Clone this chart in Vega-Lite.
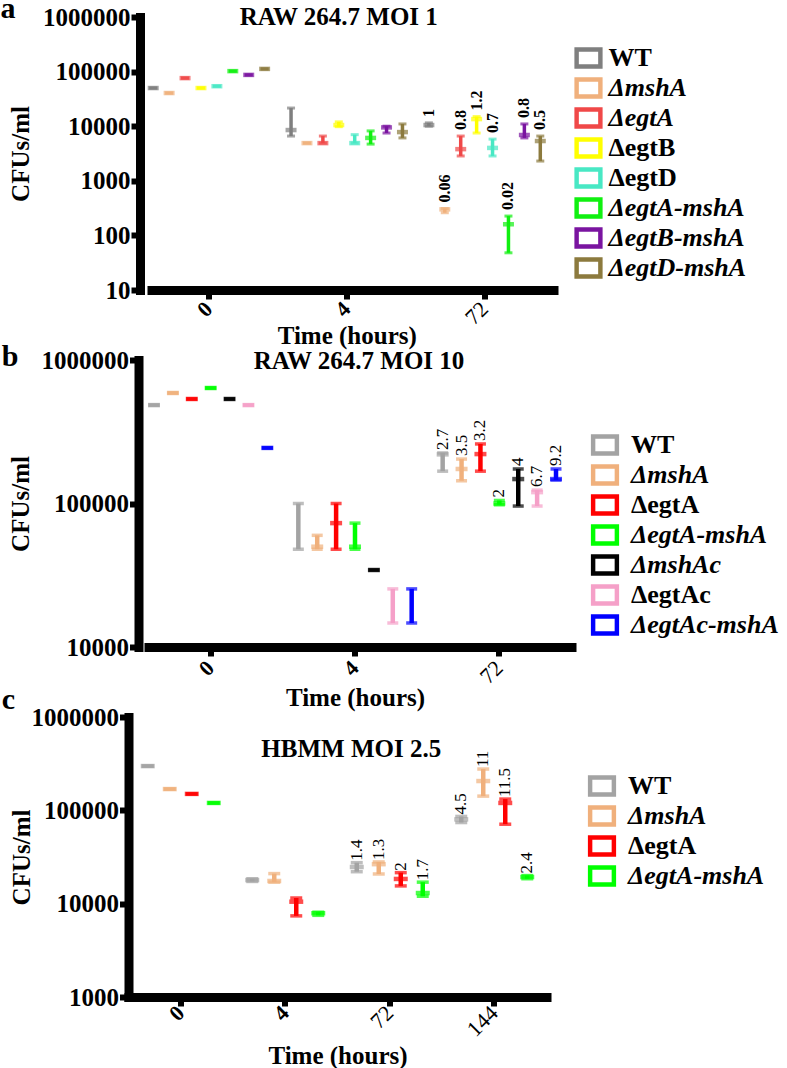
{
  "$schema": "https://vega.github.io/schema/vega-lite/v6.json",
  "background": "white",
  "padding": {"left": 0.5, "top": -6, "right": 0, "bottom": 0},
  "columns": 1,
  "align": "none",
  "bounds": "flush",
  "spacing": 70,
  "config": {
    "font": "Liberation Serif",
    "view": {"stroke": null},
    "text": {"font": "Liberation Serif", "color": "black"},
    "axis": {
      "domainColor": "black", "domainWidth": 9, "domainCap": "square",
      "tickColor": "black", "tickWidth": 6, "tickSize": 9, "grid": false,
      "labelFont": "Liberation Serif", "labelFontWeight": "bold", "labelFontSize": 25, "labelColor": "black",
      "titleFont": "Liberation Serif", "titleFontWeight": "bold", "titleFontSize": 25, "titleColor": "black"
    },
    "legend": {
      "labelFont": "Liberation Serif", "labelFontWeight": "bold", "labelColor": "black", "labelFontSize": 26,
      "symbolType": "M-1.1,-0.8H1.1V0.8H-1.1ZM-1.06,-0.76V0.76H1.06V-0.76Z", "symbolSize": 484, "symbolStrokeWidth": 4,
      "symbolFillColor": "white", "padding": 0, "title": null
    }
  },
  "datasets": {
    "a": [
      {"time": "0", "strain": "WT", "mean": 50000, "lo": 50000, "hi": 50000},
      {"time": "0", "strain": "ΔmshA", "mean": 40500, "lo": 40500, "hi": 40500},
      {"time": "0", "strain": "ΔegtA", "mean": 76000, "lo": 76000, "hi": 76000},
      {"time": "0", "strain": "ΔegtB", "mean": 50000, "lo": 50000, "hi": 50000},
      {"time": "0", "strain": "ΔegtD", "mean": 54000, "lo": 54000, "hi": 54000},
      {"time": "0", "strain": "ΔegtA-mshA", "mean": 102000, "lo": 102000, "hi": 102000},
      {"time": "0", "strain": "ΔegtB-mshA", "mean": 87000, "lo": 87000, "hi": 87000},
      {"time": "0", "strain": "ΔegtD-mshA", "mean": 112000, "lo": 112000, "hi": 112000},
      {"time": "4", "strain": "WT", "mean": 8500, "lo": 6600, "hi": 21500},
      {"time": "4", "strain": "ΔmshA", "mean": 4900, "lo": 4900, "hi": 4900},
      {"time": "4", "strain": "ΔegtA", "mean": 4900, "lo": 4900, "hi": 6600},
      {"time": "4", "strain": "ΔegtB", "mean": 10500, "lo": 9800, "hi": 12000},
      {"time": "4", "strain": "ΔegtD", "mean": 4900, "lo": 4900, "hi": 7000},
      {"time": "4", "strain": "ΔegtA-mshA", "mean": 6100, "lo": 4700, "hi": 8200},
      {"time": "4", "strain": "ΔegtB-mshA", "mean": 9500, "lo": 7500, "hi": 10000},
      {"time": "4", "strain": "ΔegtD-mshA", "mean": 7800, "lo": 6100, "hi": 11000},
      {"time": "72", "strain": "WT", "mean": 10500, "lo": 10000, "hi": 11500, "label": "1"},
      {"time": "72", "strain": "ΔmshA", "mean": 300, "lo": 260, "hi": 310, "label": "0.06"},
      {"time": "72", "strain": "ΔegtA", "mean": 3800, "lo": 2850, "hi": 6600, "label": "0.8"},
      {"time": "72", "strain": "ΔegtB", "mean": 13500, "lo": 7500, "hi": 15000, "label": "1.2"},
      {"time": "72", "strain": "ΔegtD", "mean": 4000, "lo": 2850, "hi": 5800, "label": "0.7"},
      {"time": "72", "strain": "ΔegtA-mshA", "mean": 160, "lo": 48, "hi": 226, "label": "0.02"},
      {"time": "72", "strain": "ΔegtB-mshA", "mean": 6900, "lo": 6100, "hi": 11000, "label": "0.8"},
      {"time": "72", "strain": "ΔegtD-mshA", "mean": 5350, "lo": 2300, "hi": 6600, "label": "0.5"}
    ],
    "b": [
      {"time": "0", "strain": "WT", "mean": 485000, "lo": 485000, "hi": 485000},
      {"time": "0", "strain": "ΔmshA", "mean": 589000, "lo": 589000, "hi": 589000},
      {"time": "0", "strain": "ΔegtA", "mean": 535000, "lo": 535000, "hi": 535000},
      {"time": "0", "strain": "ΔegtA-mshA", "mean": 638000, "lo": 638000, "hi": 638000},
      {"time": "0", "strain": "ΔmshAc", "mean": 535000, "lo": 535000, "hi": 535000},
      {"time": "0", "strain": "ΔegtAc", "mean": 485000, "lo": 485000, "hi": 485000},
      {"time": "0", "strain": "ΔegtAc-mshA", "mean": 244000, "lo": 244000, "hi": 244000},
      {"time": "4", "strain": "WT", "mean": null, "lo": 48000, "hi": 100000},
      {"time": "4", "strain": "ΔmshA", "mean": 50000, "lo": 48000, "hi": 60000},
      {"time": "4", "strain": "ΔegtA", "mean": 73000, "lo": 48000, "hi": 100000},
      {"time": "4", "strain": "ΔegtA-mshA", "mean": 50000, "lo": 48000, "hi": 73000},
      {"time": "4", "strain": "ΔmshAc", "mean": 34400, "lo": 34400, "hi": 34400},
      {"time": "4", "strain": "ΔegtAc", "mean": null, "lo": 14700, "hi": 25400},
      {"time": "4", "strain": "ΔegtAc-mshA", "mean": null, "lo": 14700, "hi": 25400},
      {"time": "72", "strain": "WT", "mean": 220000, "lo": 168000, "hi": 225000, "label": "2.7"},
      {"time": "72", "strain": "ΔmshA", "mean": 174000, "lo": 144000, "hi": 204000, "label": "3.5"},
      {"time": "72", "strain": "ΔegtA", "mean": 221000, "lo": 168000, "hi": 260000, "label": "3.2"},
      {"time": "72", "strain": "ΔegtA-mshA", "mean": 100000, "lo": 98000, "hi": 105000, "label": "2"},
      {"time": "72", "strain": "ΔmshAc", "mean": 148000, "lo": 96000, "hi": 174000, "label": "4"},
      {"time": "72", "strain": "ΔegtAc", "mean": 120000, "lo": 96000, "hi": 124000, "label": "6.7"},
      {"time": "72", "strain": "ΔegtAc-mshA", "mean": 148000, "lo": 146000, "hi": 174000, "label": "9.2"}
    ],
    "c": [
      {"time": "0", "strain": "WT", "mean": 298000, "lo": 298000, "hi": 298000},
      {"time": "0", "strain": "ΔmshA", "mean": 169000, "lo": 169000, "hi": 169000},
      {"time": "0", "strain": "ΔegtA", "mean": 150000, "lo": 150000, "hi": 150000},
      {"time": "0", "strain": "ΔegtA-mshA", "mean": 120000, "lo": 120000, "hi": 120000},
      {"time": "4", "strain": "WT", "mean": 17900, "lo": 17300, "hi": 18500},
      {"time": "4", "strain": "ΔmshA", "mean": 17500, "lo": 17000, "hi": 21000},
      {"time": "4", "strain": "ΔegtA", "mean": 10500, "lo": 7400, "hi": 11500},
      {"time": "4", "strain": "ΔegtA-mshA", "mean": 7900, "lo": 7500, "hi": 8100},
      {"time": "72", "strain": "WT", "mean": 24700, "lo": 22000, "hi": 27500, "label": "1.4"},
      {"time": "72", "strain": "ΔmshA", "mean": 26500, "lo": 20800, "hi": 28000, "label": "1.3"},
      {"time": "72", "strain": "ΔegtA", "mean": 18400, "lo": 15500, "hi": 21500, "label": "2"},
      {"time": "72", "strain": "ΔegtA-mshA", "mean": 13000, "lo": 12000, "hi": 17000, "label": "1.7"},
      {"time": "144", "strain": "WT", "mean": 80000, "lo": 74000, "hi": 86000, "label": "4.5"},
      {"time": "144", "strain": "ΔmshA", "mean": 206000, "lo": 142000, "hi": 277000, "label": "11"},
      {"time": "144", "strain": "ΔegtA", "mean": 120000, "lo": 71000, "hi": 132000, "label": "11.5"},
      {"time": "144", "strain": "ΔegtA-mshA", "mean": 19300, "lo": 18500, "hi": 20000, "label": "2.4"}
    ]
  },
  "concat": [
    {
      "width": 425, "height": 273,
      "data": {"name": "a"},
      "encoding": {
        "x": {"field": "time", "type": "nominal", "scale": {"domain": ["0", "4", "72"], "range": [11.5, 425], "paddingInner": 0, "paddingOuter": 0},
              "axis": {"title": "Time (hours)", "labelAngle": -45, "labelAlign": "right", "labelBaseline": "middle", "labelFontSize": 22, "labelPadding": 6, "titlePadding": -5,
                       "domainDash": [3000, 3000], "domainDashOffset": -11.5,
                       "labelFontWeight": {"condition": {"test": "datum.value == '72' || datum.value == '144'", "value": "normal"}, "value": "bold"}}},
        "xOffset": {"field": "strain", "type": "nominal", "scale": {"domain": ["WT", "ΔmshA", "ΔegtA", "ΔegtB", "ΔegtD", "ΔegtA-mshA", "ΔegtB-mshA", "ΔegtD-mshA"], "paddingInner": 0, "paddingOuter": 0.33}}
      },
      "layer": [
        {
          "mark": {"type": "rule", "strokeWidth": 3.5},
          "encoding": {
            "y": {"field": "lo", "type": "quantitative", "scale": {"type": "log", "domain": [10, 1000000]},
                  "axis": {"title": "CFUs/ml", "offset": -11.5, "values": [10, 100, 1000, 10000, 100000, 1000000], "format": "d", "labelPadding": 1, "titlePadding": 9}},
            "y2": {"field": "hi"},
            "stroke": {"field": "strain", "type": "nominal",
                       "scale": {"domain": ["WT", "ΔmshA", "ΔegtA", "ΔegtB", "ΔegtD", "ΔegtA-mshA", "ΔegtB-mshA", "ΔegtD-mshA"],
                                 "range": ["#7f7f7f", "#f0b07c", "#f04848", "#ffff00", "#48e8c4", "#10f010", "#7a14a0", "#8c7a3e"]},
                       "legend": {"orient": "none", "legendX": 447, "legendY": 28, "rowPadding": -9.5, "labelOffset": 7, "symbolFillColor": "white",
                                  "labelFontStyle": {"expr": "(indexof(datum.label, 'msh') >= 0 || datum.label == 'ΔegtA') ? 'italic' : 'normal'"}}}
          }
        },
        {
          "mark": {"type": "tick", "thickness": 3, "size": 8},
          "encoding": {
            "y": {"field": "lo", "type": "quantitative"},
            "color": {"field": "strain", "type": "nominal", "legend": null,
                      "scale": {"domain": ["WT", "ΔmshA", "ΔegtA", "ΔegtB", "ΔegtD", "ΔegtA-mshA", "ΔegtB-mshA", "ΔegtD-mshA"],
                                "range": ["#7f7f7f", "#f0b07c", "#f04848", "#ffff00", "#48e8c4", "#10f010", "#7a14a0", "#8c7a3e"]}}
          }
        },
        {
          "mark": {"type": "tick", "thickness": 3, "size": 8},
          "encoding": {
            "y": {"field": "hi", "type": "quantitative"},
            "color": {"field": "strain", "type": "nominal", "legend": null}
          }
        },
        {
          "transform": [{"filter": "datum.mean != null"}],
          "mark": {"type": "tick", "thickness": 4.5, "size": 11},
          "encoding": {
            "y": {"field": "mean", "type": "quantitative"},
            "color": {"field": "strain", "type": "nominal", "legend": null}
          }
        },
        {
          "transform": [{"filter": "datum.label != null"}],
          "mark": {"type": "text", "angle": 270, "align": "left", "baseline": "middle", "dx": 6, "fontSize": 16, "fontWeight": "bold"},
          "encoding": {
            "y": {"field": "hi", "type": "quantitative"},
            "text": {"field": "label"}
          }
        },
        {
          "data": {"values": [{"t": "RAW 264.7 MOI 1"}]},
          "mark": {"type": "text", "fontSize": 25, "fontWeight": "bold", "baseline": "middle", "align": "center", "dx": -8},
          "encoding": {"x": {"datum": "4"}, "xOffset": null, "y": {"datum": 1000000}, "text": {"field": "t"}}
        },
        {
          "data": {"values": [{"t": "a"}]},
          "mark": {"type": "text", "fontSize": 30, "fontWeight": "bold", "baseline": "alphabetic", "align": "left", "dx": -208.4, "dy": 1},
          "encoding": {"x": {"datum": "0"}, "xOffset": null, "y": {"datum": 1000000}, "text": {"field": "t"}}
        }
      ]
    },
    {
      "width": 443, "height": 287,
      "data": {"name": "b"},
      "encoding": {
        "x": {"field": "time", "type": "nominal", "scale": {"domain": ["0", "4", "72"], "range": [10, 443], "paddingInner": 0, "paddingOuter": 0},
              "axis": {"title": "Time (hours)", "labelAngle": -45, "labelAlign": "right", "labelBaseline": "middle", "labelFontSize": 22, "labelPadding": 8, "titlePadding": -2,
                       "domainDash": [3000, 3000], "domainDashOffset": -10,
                       "labelFontWeight": {"condition": {"test": "datum.value == '72' || datum.value == '144'", "value": "normal"}, "value": "bold"}}},
        "xOffset": {"field": "strain", "type": "nominal", "scale": {"domain": ["WT", "ΔmshA", "ΔegtA", "ΔegtA-mshA", "ΔmshAc", "ΔegtAc", "ΔegtAc-mshA"], "paddingInner": 0, "paddingOuter": 0.32}}
      },
      "layer": [
        {
          "mark": {"type": "rule", "strokeWidth": 4.5},
          "encoding": {
            "y": {"field": "lo", "type": "quantitative", "scale": {"type": "log", "domain": [10000, 1000000]},
                  "axis": {"title": "CFUs/ml", "offset": -10, "values": [10000, 100000, 1000000], "format": "d", "labelPadding": 1, "titlePadding": 7.5}},
            "y2": {"field": "hi"},
            "stroke": {"field": "strain", "type": "nominal",
                       "scale": {"domain": ["WT", "ΔmshA", "ΔegtA", "ΔegtA-mshA", "ΔmshAc", "ΔegtAc", "ΔegtAc-mshA"],
                                 "range": ["#a3a3a3", "#f0b07c", "#ff0000", "#00ff00", "#000000", "#f5a0c8", "#0000ff"]},
                       "legend": {"orient": "none", "legendX": 463.5, "legendY": 72, "rowPadding": -6.3, "labelOffset": 13, "symbolFillColor": "white",
                                  "labelFontStyle": {"expr": "indexof(datum.label, 'msh') >= 0 ? 'italic' : 'normal'"}}}
          }
        },
        {
          "mark": {"type": "tick", "thickness": 3.5, "size": 11},
          "encoding": {
            "y": {"field": "lo", "type": "quantitative"},
            "color": {"field": "strain", "type": "nominal", "legend": null,
                      "scale": {"domain": ["WT", "ΔmshA", "ΔegtA", "ΔegtA-mshA", "ΔmshAc", "ΔegtAc", "ΔegtAc-mshA"],
                                "range": ["#a3a3a3", "#f0b07c", "#ff0000", "#00ff00", "#000000", "#f5a0c8", "#0000ff"]}}
          }
        },
        {
          "mark": {"type": "tick", "thickness": 3.5, "size": 11},
          "encoding": {
            "y": {"field": "hi", "type": "quantitative"},
            "color": {"field": "strain", "type": "nominal", "legend": null}
          }
        },
        {
          "transform": [{"filter": "datum.mean != null"}],
          "mark": {"type": "tick", "thickness": 4.5, "size": 12},
          "encoding": {
            "y": {"field": "mean", "type": "quantitative"},
            "color": {"field": "strain", "type": "nominal", "legend": null}
          }
        },
        {
          "transform": [{"filter": "datum.label != null"}],
          "mark": {"type": "text", "angle": 270, "align": "left", "baseline": "middle", "dx": 3, "fontSize": 17},
          "encoding": {
            "y": {"field": "hi", "type": "quantitative"},
            "text": {"field": "label"}
          }
        },
        {
          "data": {"values": [{"t": "RAW 264.7 MOI 10"}]},
          "mark": {"type": "text", "fontSize": 25, "fontWeight": "bold", "baseline": "middle", "align": "center", "dx": 4, "dy": 1},
          "encoding": {"x": {"datum": "4"}, "xOffset": null, "y": {"datum": 1000000}, "text": {"field": "t"}}
        },
        {
          "data": {"values": [{"t": "b"}]},
          "mark": {"type": "text", "fontSize": 30, "fontWeight": "bold", "baseline": "alphabetic", "align": "left", "dx": -209, "dy": 6},
          "encoding": {"x": {"datum": "0"}, "xOffset": null, "y": {"datum": 1000000}, "text": {"field": "t"}}
        }
      ]
    },
    {
      "width": 418, "height": 280,
      "data": {"name": "c"},
      "encoding": {
        "x": {"field": "time", "type": "nominal", "scale": {"domain": ["0", "4", "72", "144"], "paddingInner": 0, "paddingOuter": 0},
              "axis": {"title": "Time (hours)", "labelAngle": -45, "labelAlign": "right", "labelBaseline": "middle", "labelFontSize": 22, "labelPadding": 3, "titlePadding": 3,
                       "labelFontWeight": {"condition": {"test": "datum.value == '72' || datum.value == '144'", "value": "normal"}, "value": "bold"}}},
        "xOffset": {"field": "strain", "type": "nominal", "scale": {"domain": ["WT", "ΔmshA", "ΔegtA", "ΔegtA-mshA"], "paddingInner": 0, "paddingOuter": 0.375}}
      },
      "layer": [
        {
          "mark": {"type": "rule", "strokeWidth": 4.5},
          "encoding": {
            "y": {"field": "lo", "type": "quantitative", "scale": {"type": "log", "domain": [1000, 1000000]},
                  "axis": {"title": "CFUs/ml", "values": [1000, 10000, 100000, 1000000], "format": "d", "labelPadding": 1, "titlePadding": -3.5}},
            "y2": {"field": "hi"},
            "stroke": {"field": "strain", "type": "nominal",
                       "scale": {"domain": ["WT", "ΔmshA", "ΔegtA", "ΔegtA-mshA"],
                                 "range": ["#a3a3a3", "#f0b07c", "#ff0000", "#00ff00"]},
                       "legend": {"orient": "none", "legendX": 460.5, "legendY": 56, "rowPadding": -8.3, "labelOffset": 13, "symbolFillColor": "white",
                                  "labelFontStyle": {"expr": "indexof(datum.label, 'msh') >= 0 ? 'italic' : 'normal'"}}}
          }
        },
        {
          "mark": {"type": "tick", "thickness": 3.5, "size": 12},
          "encoding": {
            "y": {"field": "lo", "type": "quantitative"},
            "color": {"field": "strain", "type": "nominal", "legend": null,
                      "scale": {"domain": ["WT", "ΔmshA", "ΔegtA", "ΔegtA-mshA"],
                                "range": ["#a3a3a3", "#f0b07c", "#ff0000", "#00ff00"]}}
          }
        },
        {
          "mark": {"type": "tick", "thickness": 3.5, "size": 12},
          "encoding": {
            "y": {"field": "hi", "type": "quantitative"},
            "color": {"field": "strain", "type": "nominal", "legend": null}
          }
        },
        {
          "transform": [{"filter": "datum.mean != null"}],
          "mark": {"type": "tick", "thickness": 4.5, "size": 14},
          "encoding": {
            "y": {"field": "mean", "type": "quantitative"},
            "color": {"field": "strain", "type": "nominal", "legend": null}
          }
        },
        {
          "transform": [{"filter": "datum.label != null"}],
          "mark": {"type": "text", "angle": 270, "align": "left", "baseline": "middle", "dx": 2, "fontSize": 17},
          "encoding": {
            "y": {"field": "hi", "type": "quantitative"},
            "text": {"field": "label"}
          }
        },
        {
          "data": {"values": [{"t": "HBMM MOI 2.5"}]},
          "mark": {"type": "text", "fontSize": 25, "fontWeight": "bold", "baseline": "middle", "align": "center", "dx": 66},
          "encoding": {"x": {"datum": "4"}, "xOffset": null, "y": {"datum": 454000}, "text": {"field": "t"}}
        },
        {
          "data": {"values": [{"t": "c"}]},
          "mark": {"type": "text", "fontSize": 30, "fontWeight": "bold", "baseline": "alphabetic", "align": "left", "dx": -179, "dy": -8},
          "encoding": {"x": {"datum": "0"}, "xOffset": null, "y": {"datum": 1000000}, "text": {"field": "t"}}
        }
      ]
    }
  ],
  "resolve": {
    "scale": {"x": "independent", "y": "independent", "xOffset": "independent", "color": "independent", "stroke": "independent"},
    "legend": {"stroke": "independent", "color": "independent"}
  }
}
